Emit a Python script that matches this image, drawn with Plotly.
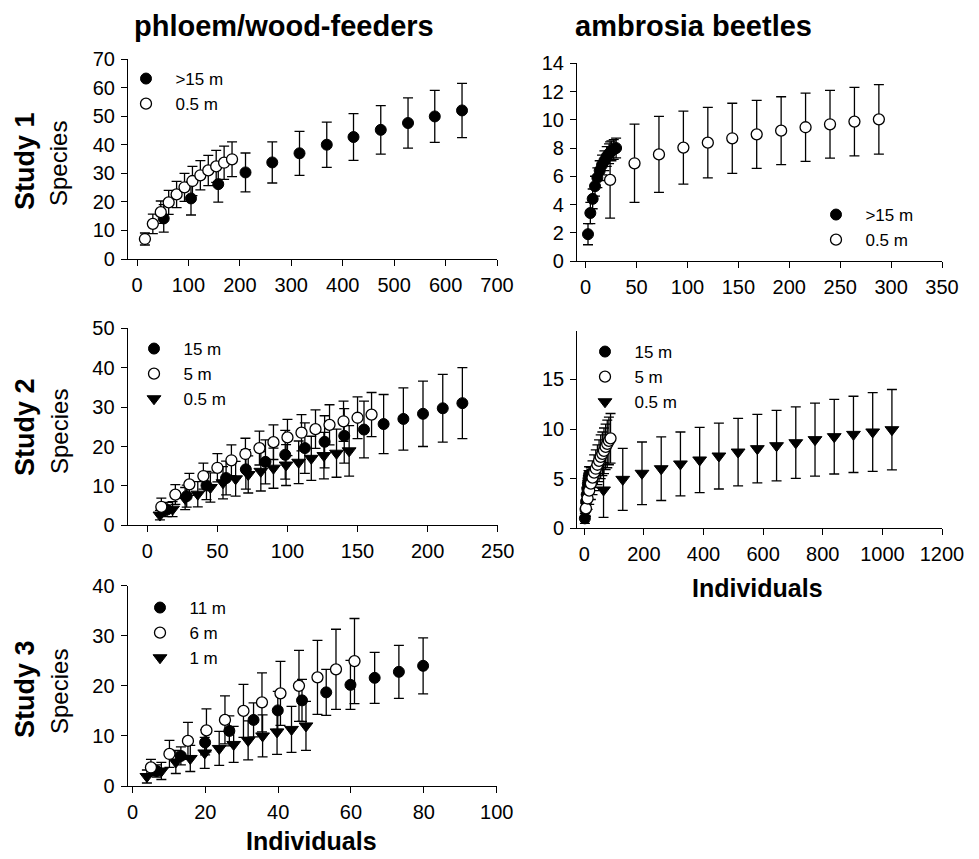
import plotly.graph_objects as go

# ---------------- data ----------------
# Study 1, phloem/wood-feeders
s1p_far_x = [52, 105, 158, 211, 263, 316, 369, 421, 474, 527, 579, 632]
s1p_far_y = [14.2, 21.2, 26.2, 30.3, 33.8, 37.0, 40.0, 42.7, 45.2, 47.6, 49.9, 52.0]
s1p_far_e = [4.8, 5.8, 6.3, 6.8, 7.2, 7.7, 7.9, 8.2, 8.5, 8.8, 9.1, 9.5]
s1p_low_x = [15.4, 30.8, 46.2, 61.6, 77, 92.4, 107.8, 123.2, 138.6, 154, 169.4, 184.8]
s1p_low_y = [7.0, 12.3, 16.4, 19.8, 22.6, 25.1, 27.3, 29.3, 31.0, 32.4, 33.7, 34.9]
s1p_low_e = [2.1, 3.4, 3.9, 4.2, 4.6, 4.9, 5.1, 5.1, 5.3, 5.6, 5.8, 6.1]

# Study 1, ambrosia beetles
s1a_far_x = [2.3, 4.6, 6.9, 9.2, 11.5, 13.8, 16.1, 18.4, 20.7, 23.0, 25.3, 27.6, 29.9]
s1a_far_y = [1.9, 3.4, 4.4, 5.3, 5.9, 6.4, 6.8, 7.1, 7.4, 7.6, 7.8, 7.9, 8.0]
s1a_far_e = [0.75, 0.75, 0.7, 0.7, 0.7, 0.7, 0.7, 0.7, 0.7, 0.7, 0.7, 0.7, 0.7]
s1a_low_x = [24, 48, 72, 96, 120, 144, 168, 192, 216, 240, 264, 288]
s1a_low_y = [5.74, 6.92, 7.55, 8.03, 8.38, 8.69, 8.97, 9.23, 9.47, 9.68, 9.87, 10.03]
s1a_low_e = [2.7, 2.77, 2.69, 2.59, 2.5, 2.48, 2.41, 2.4, 2.42, 2.4, 2.42, 2.46]

# Study 2, phloem/wood-feeders
s2p_15_x = [14.05, 28.1, 42.2, 56.2, 70.3, 84.3, 98.4, 112.4, 126.5, 140.5, 154.6, 168.6, 182.7, 196.7, 210.8, 224.8]
s2p_15_y = [4.0, 7.4, 10.1, 12.0, 14.2, 16.1, 17.9, 19.6, 21.2, 22.7, 24.3, 25.7, 27.0, 28.3, 29.7, 31.0]
s2p_15_e = [1.8, 2.8, 3.6, 4.3, 5.0, 5.6, 6.2, 6.4, 6.6, 6.9, 7.2, 7.5, 7.9, 8.3, 8.6, 9.0]
s2p_5_x = [10, 20, 30, 40, 50, 60, 70, 80, 90, 100, 110, 120, 130, 140, 150, 160]
s2p_5_y = [4.7, 7.8, 10.4, 12.5, 14.6, 16.5, 18.1, 19.6, 21.1, 22.3, 23.5, 24.4, 25.5, 26.4, 27.3, 28.1]
s2p_5_e = [2.2, 2.5, 2.8, 3.3, 3.6, 3.9, 4.0, 4.3, 4.4, 4.6, 4.6, 4.9, 5.1, 5.1, 5.3, 5.6]
s2p_05_x = [9, 18, 27, 36, 45, 54, 63, 72, 81, 90, 99, 108, 117, 126, 135, 144]
s2p_05_y = [2.6, 4.1, 6.8, 7.9, 9.6, 10.8, 11.8, 12.9, 13.7, 14.5, 15.3, 16.0, 17.0, 17.7, 18.3, 18.9]
s2p_05_e = [1.2, 1.9, 2.8, 3.2, 3.7, 4.1, 4.4, 4.7, 5.0, 5.1, 5.2, 5.4, 5.6, 5.9, 6.1, 6.4]

# Study 2, ambrosia beetles
s2a_15_x = [2, 4, 6, 8, 10, 12, 14, 16]
s2a_15_y = [1.0, 1.9, 2.7, 3.4, 4.0, 4.5, 5.0, 5.4]
s2a_15_e = [0.5, 0.6, 0.7, 0.7, 0.8, 0.8, 0.8, 0.8]
s2a_5_x = [5.5, 11, 16.5, 22, 27.5, 33, 38.5, 44, 49.5, 55, 60.5, 66, 71.5, 77, 82.5, 88]
s2a_5_y = [2.0, 3.0, 3.8, 4.5, 5.1, 5.6, 6.0, 6.4, 6.8, 7.2, 7.5, 7.8, 8.2, 8.5, 8.8, 9.06]
s2a_5_e = [0.8, 1.1, 1.4, 1.6, 1.7, 1.8, 1.9, 2.0, 2.1, 2.2, 2.2, 2.3, 2.3, 2.4, 2.4, 2.5]
s2a_05_x = [64.5, 129, 193.5, 258, 322.5, 387, 451.5, 516, 580.5, 645, 709.5, 774, 838.5, 903, 967.5, 1032]
s2a_05_y = [3.86, 4.93, 5.54, 6.0, 6.48, 6.88, 7.28, 7.68, 8.02, 8.32, 8.62, 8.93, 9.23, 9.46, 9.7, 9.93]
s2a_05_e = [2.76, 3.12, 3.15, 3.2, 3.22, 3.29, 3.32, 3.4, 3.45, 3.55, 3.6, 3.67, 3.76, 3.84, 3.96, 4.05]

# Study 3, phloem/wood-feeders
s3_11_x = [6.65, 13.3, 19.95, 26.6, 33.25, 39.9, 46.55, 53.2, 59.85, 66.5, 73.15, 79.8]
s3_11_y = [3.0, 6.0, 8.7, 11.0, 13.2, 15.1, 17.1, 18.7, 20.2, 21.6, 22.8, 24.0]
s3_11_e = [1.2, 1.8, 2.5, 3.0, 3.4, 3.8, 4.2, 4.6, 4.9, 5.1, 5.3, 5.6]
s3_6_x = [5.08, 10.16, 15.24, 20.32, 25.4, 30.48, 35.56, 40.64, 45.72, 50.8, 55.88, 60.96]
s3_6_y = [3.7, 6.4, 9.0, 11.1, 13.2, 15.0, 16.7, 18.5, 20.0, 21.7, 23.3, 24.95]
s3_6_e = [1.6, 2.7, 3.7, 4.3, 4.8, 5.3, 5.9, 6.4, 7.1, 7.4, 8.0, 8.5]
s3_1_x = [3.97, 7.94, 11.91, 15.88, 19.85, 23.82, 27.79, 31.76, 35.73, 39.7, 43.67, 47.64]
s3_1_y = [1.9, 3.0, 4.8, 5.5, 6.6, 7.5, 8.3, 9.1, 10.0, 10.8, 11.3, 12.0]
s3_1_e = [1.3, 1.7, 2.3, 2.6, 3.1, 3.4, 3.6, 3.9, 4.2, 4.5, 4.6, 4.9]

# ---------------- layout helpers ----------------
OFF = 8  # page body margin
W, H = 979 - OFF, 859 - OFF
FONT = "Liberation Sans, Arial, sans-serif"
NB = "\u00a0\u00a0"


def px_x(p):
    return (p - OFF) / W


def px_y(p):
    return 1 - (p - OFF) / H


fig = go.Figure()


def add(x, y, e, name, kind, ax, legend, rank):
    if kind == "filled":
        marker = dict(symbol="circle", size=11, color="black", line=dict(color="black", width=1))
    elif kind == "open":
        marker = dict(symbol="circle", size=11, color="white", line=dict(color="black", width=1.3))
    else:
        marker = dict(symbol="triangle-down", size=12, color="black", line=dict(color="black", width=1))
    fig.add_trace(go.Scatter(
        x=x, y=y, mode="markers", name=NB + name, marker=marker,
        error_y=dict(type="data", array=e, visible=True, color="black", thickness=1.3, width=5),
        xaxis="x" + ax, yaxis="y" + ax, legend=legend, legendrank=rank, cliponaxis=False,
    ))


# Panel 1
add(s1p_far_x, s1p_far_y, s1p_far_e, ">15 m", "filled", "", "legend", 1)
add(s1p_low_x, s1p_low_y, s1p_low_e, "0.5 m", "open", "", "legend", 2)
# Panel 2
add(s1a_low_x, s1a_low_y, s1a_low_e, "0.5 m", "open", "2", "legend2", 2)
add(s1a_far_x, s1a_far_y, s1a_far_e, ">15 m", "filled", "2", "legend2", 1)
# Panel 3
add(s2p_05_x, s2p_05_y, s2p_05_e, "0.5 m", "tri", "3", "legend3", 3)
add(s2p_15_x, s2p_15_y, s2p_15_e, "15 m", "filled", "3", "legend3", 1)
add(s2p_5_x, s2p_5_y, s2p_5_e, "5 m", "open", "3", "legend3", 2)
# Panel 4
add(s2a_05_x, s2a_05_y, s2a_05_e, "0.5 m", "tri", "4", "legend4", 3)
add(s2a_15_x, s2a_15_y, s2a_15_e, "15 m", "filled", "4", "legend4", 1)
add(s2a_5_x, s2a_5_y, s2a_5_e, "5 m", "open", "4", "legend4", 2)
# Panel 5
add(s3_1_x, s3_1_y, s3_1_e, "1 m", "tri", "5", "legend5", 3)
add(s3_11_x, s3_11_y, s3_11_e, "11 m", "filled", "5", "legend5", 1)
add(s3_6_x, s3_6_y, s3_6_e, "6 m", "open", "5", "legend5", 2)

tickfont = dict(family=FONT, size=20, color="black")


def xa(dom, rng, dtick, anchor):
    return dict(domain=[px_x(dom[0]), px_x(dom[1])], range=rng, tick0=0, dtick=dtick,
                showline=True, linecolor="black", linewidth=1.2, ticks="outside", ticklen=6,
                tickcolor="black", tickwidth=1.2, showgrid=False, zeroline=False,
                tickfont=tickfont, anchor=anchor, ticklabelstandoff=2, automargin=False)


def ya(dom, rng, anchor, dtick=None, tickvals=None):
    d = dict(domain=[px_y(dom[1]), px_y(dom[0])], range=rng,
             showline=True, linecolor="black", linewidth=1.2, ticks="outside", ticklen=6,
             tickcolor="black", tickwidth=1.2, showgrid=False, zeroline=False,
             tickfont=tickfont, anchor=anchor, ticklabelstandoff=2, automargin=False)
    if tickvals is not None:
        d["tickvals"] = tickvals
    else:
        d["tick0"] = 0
        d["dtick"] = dtick
    return d


def leg(x_marker, y_first):
    return dict(x=px_x(x_marker - 21), y=px_y(y_first - 16), xanchor="left", yanchor="top",
                font=dict(family=FONT, size=17, color="black"), bgcolor="rgba(0,0,0,0)",
                tracegroupgap=0, itemclick=False, traceorder="normal")


fig.update_layout(
    template="none",
    width=W, height=H, margin=dict(l=0, r=0, t=0, b=0, pad=0), autosize=False,
    paper_bgcolor="white", plot_bgcolor="white", showlegend=True,
    xaxis=xa((128, 497), [-17.5, 700], 100, "y"),
    yaxis=ya((59, 259), [0, 70], "x", dtick=10),
    xaxis2=xa((577, 942), [-8.5, 350], 50, "y2"),
    yaxis2=ya((63.3, 261), [0, 14], "x2", dtick=2),
    xaxis3=xa((127.7, 497.7), [-14, 250], 50, "y3"),
    yaxis3=ya((328.3, 525.3), [0, 50], "x3", dtick=10),
    xaxis4=xa((577.3, 942), [-23.5, 1200], 200, "y4"),
    yaxis4=ya((330.7, 528.3), [0, 19.9], "x4", tickvals=[0, 5, 10, 15]),
    xaxis5=xa((127.7, 496.7), [-1.3, 100], 20, "y5"),
    yaxis5=ya((585.7, 786), [0, 40], "x5", dtick=10),
    legend=leg(147, 77),
    legend2=leg(837, 213),
    legend3=leg(155, 347),
    legend4=leg(606, 350),
    legend5=leg(161, 606),
)

annots = [
    dict(text="<b>phloem/wood-feeders</b>", x=283.5, y=26, size=29, angle=0),
    dict(text="<b>ambrosia beetles</b>", x=693.5, y=26, size=29, angle=0),
    dict(text="<b>Individuals</b>", x=757, y=588, size=25, angle=0),
    dict(text="<b>Individuals</b>", x=311, y=841, size=25, angle=0),
    dict(text="<b>Study 1</b>", x=25, y=161, size=27, angle=-90),
    dict(text="Species", x=59, y=164, size=24, angle=-90),
    dict(text="<b>Study 2</b>", x=25, y=427, size=27, angle=-90),
    dict(text="Species", x=59, y=432, size=24, angle=-90),
    dict(text="<b>Study 3</b>", x=25, y=689, size=27, angle=-90),
    dict(text="Species", x=59, y=692, size=24, angle=-90),
]
for a in annots:
    fig.add_annotation(text=a["text"], x=px_x(a["x"]), y=px_y(a["y"]), xref="paper", yref="paper",
                       xanchor="center", yanchor="middle", showarrow=False, textangle=a["angle"],
                       font=dict(family=FONT, size=a["size"], color="black"))

fig.write_html("out.html")
